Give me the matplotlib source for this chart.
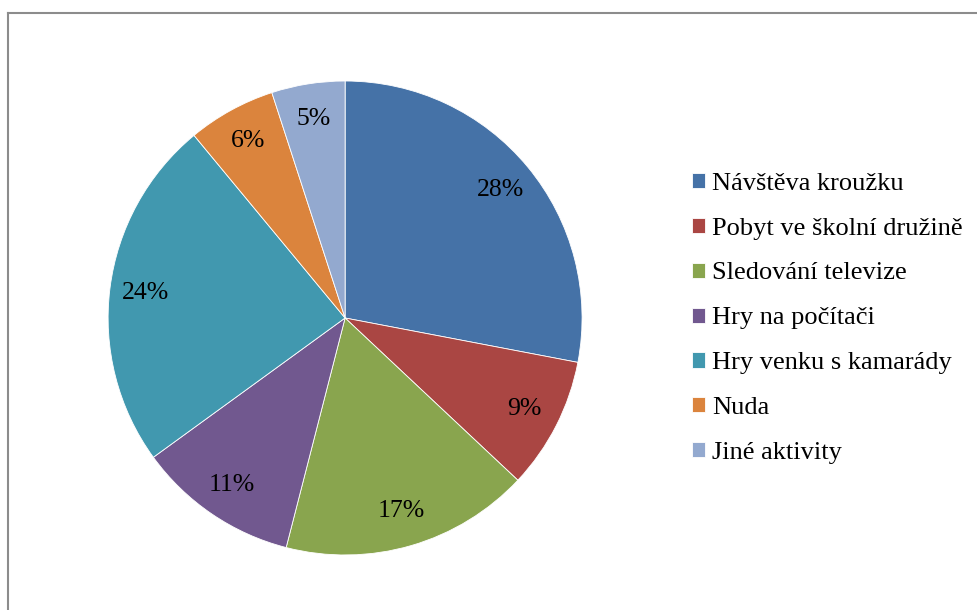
import matplotlib
matplotlib.use("Agg")
import matplotlib.pyplot as plt
from matplotlib.lines import Line2D

categories = ["Návštěva kroužku", "Pobyt ve školní družině", "Sledování televize",
              "Hry na počítači", "Hry venku s kamarády", "Nuda", "Jiné aktivity"]
values = [28, 9, 17, 11, 24, 6, 5]
colors = ["#4572A7", "#AA4643", "#89A54E", "#71588F", "#4198AF", "#DB843D", "#93A9CF"]

plt.rcParams['font.family'] = ['Liberation Serif', 'DejaVu Serif']

fig = plt.figure(figsize=(9.78, 6.10), dpi=100)
ax = fig.add_axes([0.1105, 0.0902, 0.4847, 0.777])
wedges, texts, autotexts = ax.pie(values, colors=colors, startangle=90, counterclock=False,
                                  autopct='%1.0f%%', pctdistance=0.85,
                                  wedgeprops=dict(edgecolor='white', linewidth=0.6),
                                  textprops=dict(fontsize=18.5, color='black'))
ax.set_xlim(-1, 1)
ax.set_ylim(-1, 1)
ax.set_aspect('equal')

leg = fig.legend(wedges, categories, loc='center left', bbox_to_anchor=(0.7075, 0.478),
                 frameon=False, fontsize=19, handlelength=0.5, handleheight=0.5,
                 handletextpad=0.27, labelspacing=0.87, borderaxespad=0, borderpad=0)

# chart frame
fig.add_artist(Line2D([8/978, 8/978], [0, 1 - 13/610], color='#8c8c8c', lw=1.5))
fig.add_artist(Line2D([8/978, 1], [1 - 13/610, 1 - 13/610], color='#8c8c8c', lw=1.5))

fig.savefig("out.png", dpi=100)
